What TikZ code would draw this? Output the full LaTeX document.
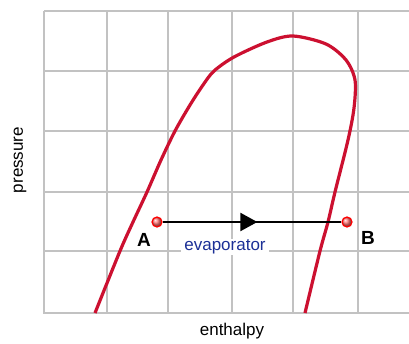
\documentclass[tikz,border=0pt]{standalone}
\usepackage{fontspec}
\setmainfont{Liberation Sans}
\usetikzlibrary{arrows.meta, decorations.markings}
\definecolor{gridgray}{RGB}{194,194,194}
\definecolor{curvered}{RGB}{204,16,48}
\definecolor{labelblue}{RGB}{28,48,150}
\tikzset{
  axislabel/.style={font=\fontsize{17}{20}\selectfont},
  pointlabel/.style={font=\bfseries\fontsize{19}{20}\selectfont},
  statept/.style={circle, inner sep=0pt, minimum size=10pt, draw=red,
    line width=1.2pt, shading=ball, ball color=red!55!white},
}

\begin{document}
\begin{tikzpicture}[x=1pt, y=-1pt, >=stealth]
  \fill[white] (0,0) rectangle (409,343);
  \useasboundingbox (0,0) rectangle (409,343);
  % grid
  \draw[gridgray, line width=2pt]
    (44,11) -- (409,11) (44,71) -- (409,71) (44,131) -- (409,131)
    (44,192) -- (409,192) (44,251) -- (409,251) (43,313) -- (409,313);
  \draw[gridgray, line width=2pt]
    (44,11) -- (44,313) (107,11) -- (107,313) (168,11) -- (168,313)
    (232,11) -- (232,313) (293,11) -- (293,313) (358,11) -- (358,313);
  % saturation dome
  \draw[curvered, line width=3.2pt, smooth] plot coordinates {
    (95,313) (120,251) (133,222) (147,192) (161,160) (175,131)
    (190,105) (203,85) (214,71) (234,57) (267,42) (293,36)
    (326,44) (346,60) (355,80) (354,108) (348,140) (335,192)
    (328,222) (320,251) (305,313)};
  % evaporator process
  \node[statept] (ptA) at (157,222) {};
  \node[statept] (ptB) at (347,222) {};
  \draw[line width=2.2pt, decoration={markings,
      mark=at position 0.53 with {\arrow{Triangle[length=17pt,width=18pt]}}},
    postaction={decorate}] (ptA) -- (ptB);
  \node[pointlabel] (labA) at (144,240) {A};
  \node[pointlabel] (labB) at (368,238) {B};
  \node[axislabel, fill=white, text=labelblue, inner xsep=3pt, inner ysep=1pt]
    (evap) at (225,247) {evaporator};
  % axes
  \node[axislabel, rotate=90] (pres) at (20,160) {pressure};
  \node[axislabel] (enth) at (232,331) {enthalpy};
\end{tikzpicture}
\end{document}
